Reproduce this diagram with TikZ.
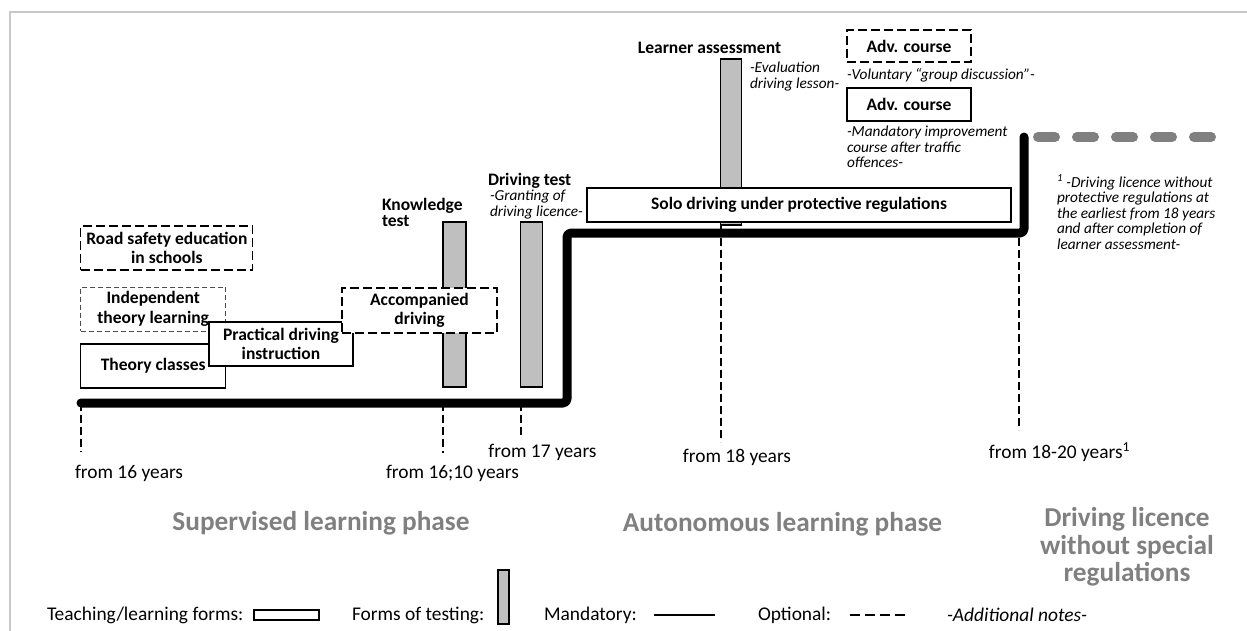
\documentclass[tikz,border=0pt]{standalone}
\usepackage{fontspec}
\setmainfont{Carlito}
\definecolor{bargray}{HTML}{BFBFBF}
\definecolor{phasegray}{HTML}{808080}
\definecolor{framegray}{HTML}{C8C8C8}
\begin{document}
\begin{tikzpicture}[x=1pt,y=-1pt,
  every node/.style={inner sep=0pt, outer sep=0pt},
  lbl/.style={font=\fontsize{17.5}{16}\selectfont\bfseries, align=left},
  note/.style={font=\fontsize{15.3}{15.5}\selectfont\itshape, align=left},
  age/.style={font=\fontsize{19.4}{22}\selectfont},
  legend/.style={font=\fontsize{19.4}{22}\selectfont, anchor=west},
  phase/.style={font=\fontsize{27.3}{27.5}\selectfont\bfseries, text=phasegray, align=center},
  formbox/.style={draw, line width=1.1pt, fill=white, align=center,
    font=\fontsize{17.5}{19.5}\selectfont\bfseries},
  optbox/.style={formbox, dash pattern=on 9pt off 4pt},
  lightopt/.style={formbox, draw=black!70, line width=0.8pt, dash pattern=on 5pt off 3pt},
  testbar/.style={draw, line width=1.1pt, fill=bargray},
  timeline/.style={line width=9pt, line cap=round, line join=round, rounded corners=4pt},
  later/.style={line width=10pt, phasegray, line cap=round, dash pattern=on 17pt off 22pt},
  tick/.style={line width=1.8pt, dash pattern=on 8pt off 4pt},
]
\useasboundingbox (0,0) rectangle (1247,630);

% outer frame
\draw[framegray, line width=1.5pt] (10,640) -- (10,12) -- (1260,12);

% forms of testing
\node[testbar, minimum width=23, minimum height=165] (kbar) at (454.5,304.5) {};
\node[testbar, minimum width=22, minimum height=165] (dbar) at (531.5,304.5) {};
\node[testbar, minimum width=21, minimum height=166] (lbar) at (731.4,142) {};

% time line with its two steps
\coordinate (t0) at (81,403);
\coordinate (t1) at (567,403);
\coordinate (t2) at (567,233);
\coordinate (t3) at (1024,233);
\coordinate (t4) at (1024,137);
\coordinate (f0) at (1038,137);
\coordinate (f1) at (1211,137);
\draw[timeline] (t0) -- (t1) -- (t2) -- (t3) -- (t4);
\draw[later] (f0) -- (f1);

% age markers
\coordinate (a16) at (80.7,403);
\coordinate (a16e) at (80.7,452);
\coordinate (a1610) at (443,403);
\coordinate (a1610e) at (443,453);
\coordinate (a17) at (520.7,403);
\coordinate (a17e) at (520.7,437);
\coordinate (a18) at (720.7,226);
\coordinate (a18e) at (720.7,442);
\coordinate (a20) at (1019,238);
\coordinate (a20e) at (1019,430);
\draw[tick] (a16) -- (a16e);
\draw[tick] (a1610) -- (a1610e);
\draw[tick] (a17) -- (a17e);
\draw[tick] (a18) -- (a18e);
\draw[tick] (a20) -- (a20e);

% teaching and learning forms
\node[optbox, minimum width=172, minimum height=44] (road) at (166.9,248) {Road safety education\\in schools};
\node[lightopt, minimum width=145, minimum height=44] (indep) at (153.2,309) {Independent\\theory learning};
\node[formbox, minimum width=145, minimum height=44] (theory) at (153.2,366) {Theory classes};
\node[formbox, minimum width=144, minimum height=44] (pract) at (281,344) {Practical driving\\instruction};
\node[optbox, minimum width=155, minimum height=45] (accomp) at (419.5,310.5) {Accompanied\\driving};
\node[formbox, minimum width=424, minimum height=34] (solo) at (799,205) {Solo driving under protective regulations};
\node[optbox, minimum width=124, minimum height=32] (advopt) at (909,46) {Adv. course};
\node[formbox, minimum width=124, minimum height=33] (advman) at (909,104.5) {Adv. course};

% labels of the tests
\node[lbl, anchor=north west] (klbl) at (382,198) {Knowledge\\test};
\node[lbl, anchor=base west] (dlbl) at (488,185) {Driving test};
\node[note, anchor=north west] (dnote) at (490,190) {-Granting of\\driving licence-};
\node[lbl] (llbl) at (709.5,48) {Learner assessment};
\node[note, anchor=north west] (lnote) at (750,62) {-Evaluation\\driving lesson-};
\node[note, anchor=north west] (vnote) at (847,68) {-Voluntary “group discussion”-};
\node[note, anchor=north west] (mnote) at (847,126) {-Mandatory improvement\\course after traffic\\offences-};
\node[note, anchor=north west] (fnote) at (1057,175) {\textsuperscript{1} -Driving licence without\\protective regulations at\\the earliest from 18 years\\and after completion of\\learner assessment-};

% ages
\node[age, anchor=west] (g16) at (75,473) {from 16 years};
\node[age] (g1610) at (452.5,473) {from 16;10 years};
\node[age] (g17) at (542.5,452) {from 17 years};
\node[age] (g18) at (737,457) {from 18 years};
\node[age] (g20) at (1059.5,452) {from 18-20 years\textsuperscript{1}};

% phases
\node[phase] (p1) at (321,523) {Supervised learning phase};
\node[phase] (p2) at (782.5,524) {Autonomous learning phase};
\node[phase] (p3) at (1127,547) {Driving licence\\without special\\regulations};

% legend
\node[legend] (k1) at (47,615) {Teaching/learning forms:};
\node[draw, line width=1.1pt, fill=white, minimum width=65, minimum height=10, anchor=west] (k1s) at (254,615) {};
\node[legend] (k2) at (352,615) {Forms of testing:};
\node[testbar, minimum width=11, minimum height=54] (k2s) at (503.5,597) {};
\node[legend] (k3) at (544,615) {Mandatory:};
\coordinate (k3a) at (654,615);
\coordinate (k3b) at (715,615);
\draw[line width=1.3pt] (k3a) -- (k3b);
\node[legend] (k4) at (758,615) {Optional:};
\coordinate (k4a) at (850,615);
\coordinate (k4b) at (905,615);
\draw[line width=1.5pt, dash pattern=on 10pt off 5pt] (k4a) -- (k4b);
\node[legend, font=\fontsize{19.4}{22}\selectfont\itshape] (k5) at (947,615) {-Additional notes-};
\end{tikzpicture}
\end{document}
